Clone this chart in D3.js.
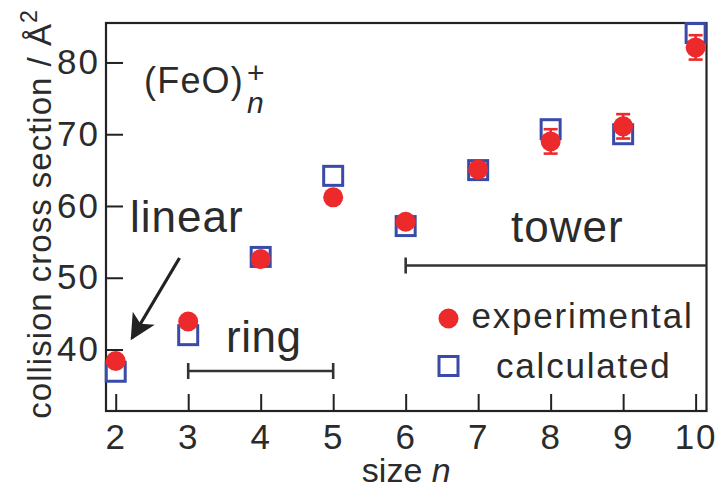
<!DOCTYPE html>
<html>
<head>
<meta charset="utf-8">
<script src="https://cdn.jsdelivr.net/npm/d3@7/dist/d3.min.js"></script>
<style>
  html, body { margin: 0; padding: 0; background: #fff; }
  svg { display: block; }
  text { font-family: "Liberation Sans", Arial, Helvetica, sans-serif; fill: #2b2b2b; }
</style>
</head>
<body>
<svg id="chart" width="719" height="485"></svg>
<script>
// ---- data ----
const sizes = [2, 3, 4, 5, 6, 7, 8, 9, 10];
const experimental = [38.4, 43.9, 52.6, 61.2, 57.8, 65.1, 69.0, 71.1, 82.1];
const experimentalError = [0.5, 0.5, 0.5, 0.5, 0.5, 0.5, 1.7, 1.7, 1.7];
const calculated = [36.9, 42.0, 52.9, 64.2, 57.2, 65.0, 70.7, 70.0, 84.1];
const xTicks = [2, 3, 4, 5, 6, 7, 8, 9, 10];
const yTicks = [40, 50, 60, 70, 80];
const structureLabels = ["linear", "ring", "tower"];
const ringRange = [3, 5];
const towerRange = [6, 10.15];
const seriesNames = ["experimental", "calculated"];

// ---- layout ----
const svg = d3.select("#chart");
const L = 106, R = 706.5, T = 23, B = 411;
const x = d3.scaleLinear().domain([1.866, 10.15]).range([L, R]);
const y = d3.scaleLinear().domain([31.43, 85.5]).range([B, T]);
const RED = "#ec2a2b", BLUE = "#3a4aa8", INK = "#222";

// axes
const xAxis = d3.axisBottom(x).tickValues(xTicks).tickFormat(d3.format("d"))
  .tickSizeInner(-17).tickSizeOuter(0).tickPadding(13);
const gx = svg.append("g").attr("transform", `translate(0,${B})`).call(xAxis);
gx.select(".domain").remove();
gx.selectAll(".tick line").attr("stroke", INK).attr("stroke-width", 2);
gx.selectAll(".tick text").attr("font-size", 35).attr("fill", "#2b2b2b")
  .attr("font-family", "Liberation Sans, Arial, sans-serif").style("letter-spacing", "2px");

const yAxis = d3.axisLeft(y).tickValues(yTicks).tickFormat(d3.format("d"))
  .tickSizeInner(-17).tickSizeOuter(0).tickPadding(6);
const gy = svg.append("g").attr("transform", `translate(${L},0)`).call(yAxis);
gy.select(".domain").remove();
gy.selectAll(".tick line").attr("stroke", INK).attr("stroke-width", 2);
gy.selectAll(".tick text").attr("font-size", 35).attr("fill", "#2b2b2b")
  .attr("font-family", "Liberation Sans, Arial, sans-serif").style("letter-spacing", "2px");

// frame
svg.append("rect").attr("x", L).attr("y", T).attr("width", R - L).attr("height", B - T)
  .attr("fill", "none").attr("stroke", INK).attr("stroke-width", 2.2);

// axis titles
svg.append("text").attr("x", (L + R) / 2).attr("y", 482).attr("text-anchor", "middle")
  .attr("font-size", 34)
  .call(t => { t.append("tspan").text("size "); t.append("tspan").attr("font-style", "italic").text("n"); });

const yt = svg.append("text").attr("transform", "translate(51,214) rotate(-90)")
  .attr("text-anchor", "middle").attr("font-size", 33).style("letter-spacing", "1px");
yt.append("tspan").text("collision cross section / Å");
yt.append("tspan").attr("dy", -14).attr("font-size", 23).text("2");

// range bars (ring, tower)
function rangeBar(r, level, capRight) {
  const g = svg.append("g").attr("stroke", "#333").attr("stroke-width", 2.6);
  const yy = y(level);
  g.append("line").attr("x1", x(r[0])).attr("x2", x(r[1])).attr("y1", yy).attr("y2", yy);
  g.append("line").attr("x1", x(r[0])).attr("x2", x(r[0])).attr("y1", yy - 8).attr("y2", yy + 8);
  if (capRight) g.append("line").attr("x1", x(r[1])).attr("x2", x(r[1])).attr("y1", yy - 8).attr("y2", yy + 8);
}
rangeBar(ringRange, 37.0, true);
rangeBar(towerRange, 51.7, false);

// annotation labels
svg.append("text").attr("x", 130).attr("y", 231.5).attr("font-size", 44).style("letter-spacing", "1px").text(structureLabels[0]);
svg.append("text").attr("x", 226).attr("y", 351.5).attr("font-size", 44).style("letter-spacing", "0.5px").text(structureLabels[1]);
svg.append("text").attr("x", 511).attr("y", 241.5).attr("font-size", 44).style("letter-spacing", "1px").text(structureLabels[2]);

// arrow for linear
svg.append("defs").append("marker").attr("id", "ah").attr("viewBox", "0 0 10 10")
  .attr("refX", 9).attr("refY", 5).attr("markerWidth", 8.5).attr("markerHeight", 8)
  .attr("markerUnits", "strokeWidth").attr("orient", "auto")
  .append("path").attr("d", "M0,0 L10,5 L0,10 L2.5,5 Z").attr("fill", INK);
svg.append("line").attr("x1", 179.5).attr("y1", 258).attr("x2", 132).attr("y2", 338)
  .attr("stroke", INK).attr("stroke-width", 3.2).attr("marker-end", "url(#ah)");

// (FeO)n+
svg.append("text").attr("x", 144).attr("y", 93).attr("font-size", 36).style("letter-spacing", "1.2px").text("(FeO)");
svg.append("text").attr("x", 247).attr("y", 113).attr("font-size", 30).attr("font-style", "italic").text("n");
svg.append("text").attr("x", 247).attr("y", 83).attr("font-size", 30).text("+");

// calculated squares
const S = 19;
svg.append("g").selectAll("rect").data(sizes).join("rect")
  .attr("x", (d, i) => x(d) - S / 2).attr("y", (d, i) => y(calculated[i]) - S / 2)
  .attr("width", S).attr("height", S)
  .attr("fill", "none").attr("stroke", BLUE).attr("stroke-width", 3);

// error bars
const eb = svg.append("g").attr("stroke", RED).attr("stroke-width", 2.6);
sizes.forEach((d, i) => {
  const y1 = y(experimental[i] + experimentalError[i]), y2 = y(experimental[i] - experimentalError[i]);
  eb.append("line").attr("x1", x(d)).attr("x2", x(d)).attr("y1", y1).attr("y2", y2);
  eb.append("line").attr("x1", x(d) - 7).attr("x2", x(d) + 7).attr("y1", y1).attr("y2", y1);
  eb.append("line").attr("x1", x(d) - 7).attr("x2", x(d) + 7).attr("y1", y2).attr("y2", y2);
});

// experimental circles
svg.append("g").selectAll("circle").data(sizes).join("circle")
  .attr("cx", d => x(d)).attr("cy", (d, i) => y(experimental[i])).attr("r", 10)
  .attr("fill", RED);

// legend
svg.append("circle").attr("cx", 448.5).attr("cy", 318.5).attr("r", 10).attr("fill", RED);
svg.append("text").attr("x", 471.5).attr("y", 327.5).attr("font-size", 35).style("letter-spacing", "1.8px").text(seriesNames[0]);
svg.append("rect").attr("x", 448.5 - S / 2).attr("y", 366 - S / 2).attr("width", S).attr("height", S)
  .attr("fill", "none").attr("stroke", BLUE).attr("stroke-width", 3);
svg.append("text").attr("x", 496).attr("y", 378).attr("font-size", 35).style("letter-spacing", "1.8px").text(seriesNames[1]);
</script>
</body>
</html>
